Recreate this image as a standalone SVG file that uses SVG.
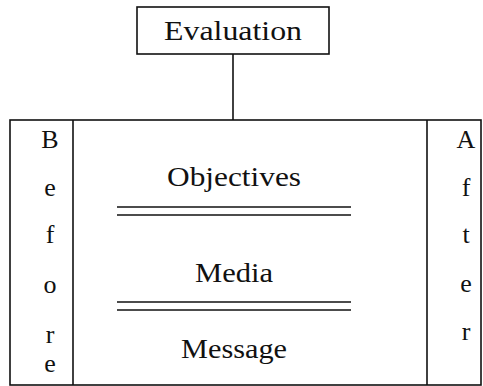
<svg xmlns="http://www.w3.org/2000/svg" width="483" height="386" viewBox="0 0 483 386">
<style>
.box{fill:#fff;stroke:#111;stroke-width:1.6}
.ln{stroke:#111;stroke-width:1.6;fill:none}
.t{font-family:"Liberation Serif",serif;font-size:28px;fill:#111;text-anchor:middle}
.c{font-family:"Liberation Serif",serif;font-size:26px;fill:#111;text-anchor:middle}
</style>
<rect width="483" height="386" fill="#fff"/>
<g id="connectors">
<line class="ln" x1="233" y1="54" x2="233" y2="120"/>
</g>
<g id="evaluation">
<rect class="box" x="137" y="7" width="192" height="47"/>
<text class="t" x="233" y="40" textLength="138" lengthAdjust="spacingAndGlyphs">Evaluation</text>
</g>
<g id="frame">
<rect class="box" x="10" y="120" width="471" height="265"/>
<line class="ln" x1="73" y1="120" x2="73" y2="385"/>
<line class="ln" x1="427" y1="120" x2="427" y2="385"/>
</g>
<g id="before">
<text class="c" x="50" y="148">B</text>
<text class="c" x="50" y="196">e</text>
<text class="c" x="50" y="243">f</text>
<text class="c" x="50" y="293">o</text>
<text class="c" x="50" y="343">r</text>
<text class="c" x="50" y="372">e</text>
</g>
<g id="after">
<text class="c" x="466" y="148">A</text>
<text class="c" x="466" y="196">f</text>
<text class="c" x="466" y="243">t</text>
<text class="c" x="466" y="292">e</text>
<text class="c" x="466" y="340">r</text>
</g>
<g id="objectives">
<text class="t" x="234" y="186" textLength="134" lengthAdjust="spacingAndGlyphs">Objectives</text>
<line class="ln" x1="117" y1="207" x2="351" y2="207"/>
<line class="ln" x1="117" y1="215" x2="351" y2="215"/>
</g>
<g id="media">
<text class="t" x="234" y="282" textLength="78" lengthAdjust="spacingAndGlyphs">Media</text>
<line class="ln" x1="117" y1="302" x2="351" y2="302"/>
<line class="ln" x1="117" y1="310" x2="351" y2="310"/>
</g>
<g id="message">
<text class="t" x="234" y="358" textLength="106" lengthAdjust="spacingAndGlyphs">Message</text>
</g>
</svg>
